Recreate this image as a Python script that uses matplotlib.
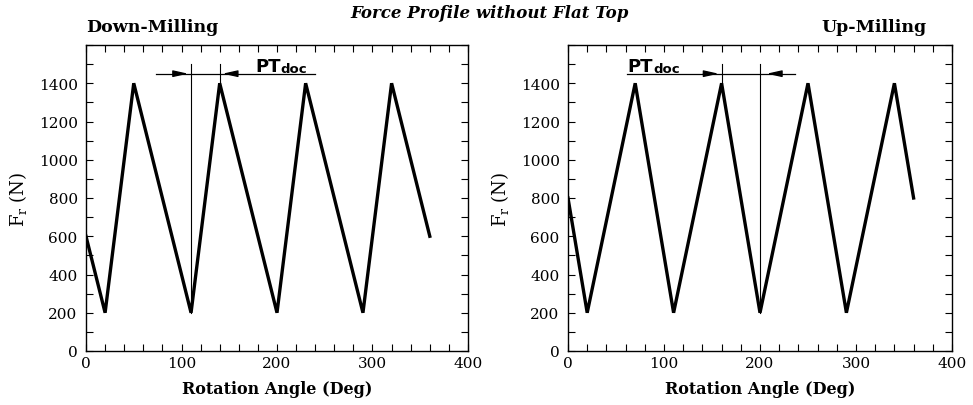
import matplotlib
import matplotlib.pyplot as plt
from matplotlib.ticker import MultipleLocator

matplotlib.use('Agg')

plt.rcParams['font.family'] = 'DejaVu Serif'
plt.rcParams['mathtext.fontset'] = 'dejavuserif'

# down-milling force profile (angle in deg, force in N)
down_angle = [0, 20, 50, 110, 140, 200, 230, 290, 320, 360]
down_force = [600, 200, 1400, 200, 1400, 200, 1400, 200, 1400, 600]

# up-milling force profile
up_angle = [0, 20, 70, 110, 160, 200, 250, 290, 340, 360]
up_force = [800, 200, 1400, 200, 1400, 200, 1400, 200, 1400, 800]

# PT_doc markers: vertical guide lines (x, y_from, y_to), dimension line, arrow tips
down_guides = [(110, 200, 1500), (140, 1400, 1500)]
down_dim = (73, 240, 1450)
down_arrows = [(92, 107), (157, 143)]
down_pt_x = 177

up_guides = [(160, 1400, 1500), (200, 200, 1500)]
up_dim = (61, 236, 1450)
up_arrows = [(141, 157), (222, 207)]
up_pt_x = 62

W, H = 973, 406
fig = plt.figure(figsize=(W / 100, H / 100), dpi=100)

ax_l = fig.add_axes([86 / W, (H - 352) / H, 382 / W, 306 / H])
ax_r = fig.add_axes([568 / W, (H - 352) / H, 384 / W, 306 / H])


def draw_panel(ax, angle, force, guides, dim, arrows, pt_x):
    ax.plot(angle, force, color='black', lw=2.4, solid_joinstyle='miter')
    for gx, y0, y1 in guides:
        ax.plot([gx, gx], [y0, y1], color='black', lw=0.8)
    ax.plot([dim[0], dim[1]], [dim[2], dim[2]], color='black', lw=0.9)
    for start, tip in arrows:
        ax.annotate('', xy=(tip, dim[2]), xytext=(start, dim[2]),
                    arrowprops=dict(arrowstyle='-|>,head_length=0.9,head_width=0.2',
                                    color='black', lw=0.9, shrinkA=0, shrinkB=0))
    pt = ax.text(pt_x, 1462, 'PT', family='DejaVu Sans', fontweight='bold',
                 fontsize=13, va='baseline', ha='left')
    ax.annotate('doc', xy=(1, 0), xycoords=pt, family='DejaVu Sans',
                fontweight='bold', fontsize=9.5, va='bottom', ha='left')
    ax.set_xlim(0, 400)
    ax.set_ylim(0, 1600)
    ax.xaxis.set_major_locator(MultipleLocator(100))
    ax.xaxis.set_minor_locator(MultipleLocator(20))
    ax.yaxis.set_major_locator(MultipleLocator(200))
    ax.yaxis.set_minor_locator(MultipleLocator(100))
    ax.set_yticks([0, 200, 400, 600, 800, 1000, 1200, 1400])
    ax.tick_params(which='both', direction='in', top=True, right=True,
                   length=5, width=0.8, labelsize=11)
    ax.tick_params(axis='y', pad=6)
    for sp in ax.spines.values():
        sp.set_linewidth(1.0)
    ax.set_xlabel('Rotation Angle (Deg)', fontsize=11.5, fontweight='bold', labelpad=7)
    ax.set_ylabel(r'F$_{\mathrm{r}}$ (N)', fontsize=13, labelpad=7)


draw_panel(ax_l, down_angle, down_force, down_guides, down_dim, down_arrows, down_pt_x)
draw_panel(ax_r, up_angle, up_force, up_guides, up_dim, up_arrows, up_pt_x)

fig.text(86 / W, 1 - 28 / H, 'Down-Milling', fontsize=12.5, fontweight='bold',
         ha='left', va='center')
fig.text(926 / W, 1 - 28 / H, 'Up-Milling', fontsize=12.5, fontweight='bold',
         ha='right', va='center')
fig.text(490 / W, 1 - 14 / H, 'Force Profile without Flat Top', fontsize=12,
         fontweight='bold', fontstyle='italic', ha='center', va='center')

fig.savefig('out.png', dpi=100)
plt.close(fig)
